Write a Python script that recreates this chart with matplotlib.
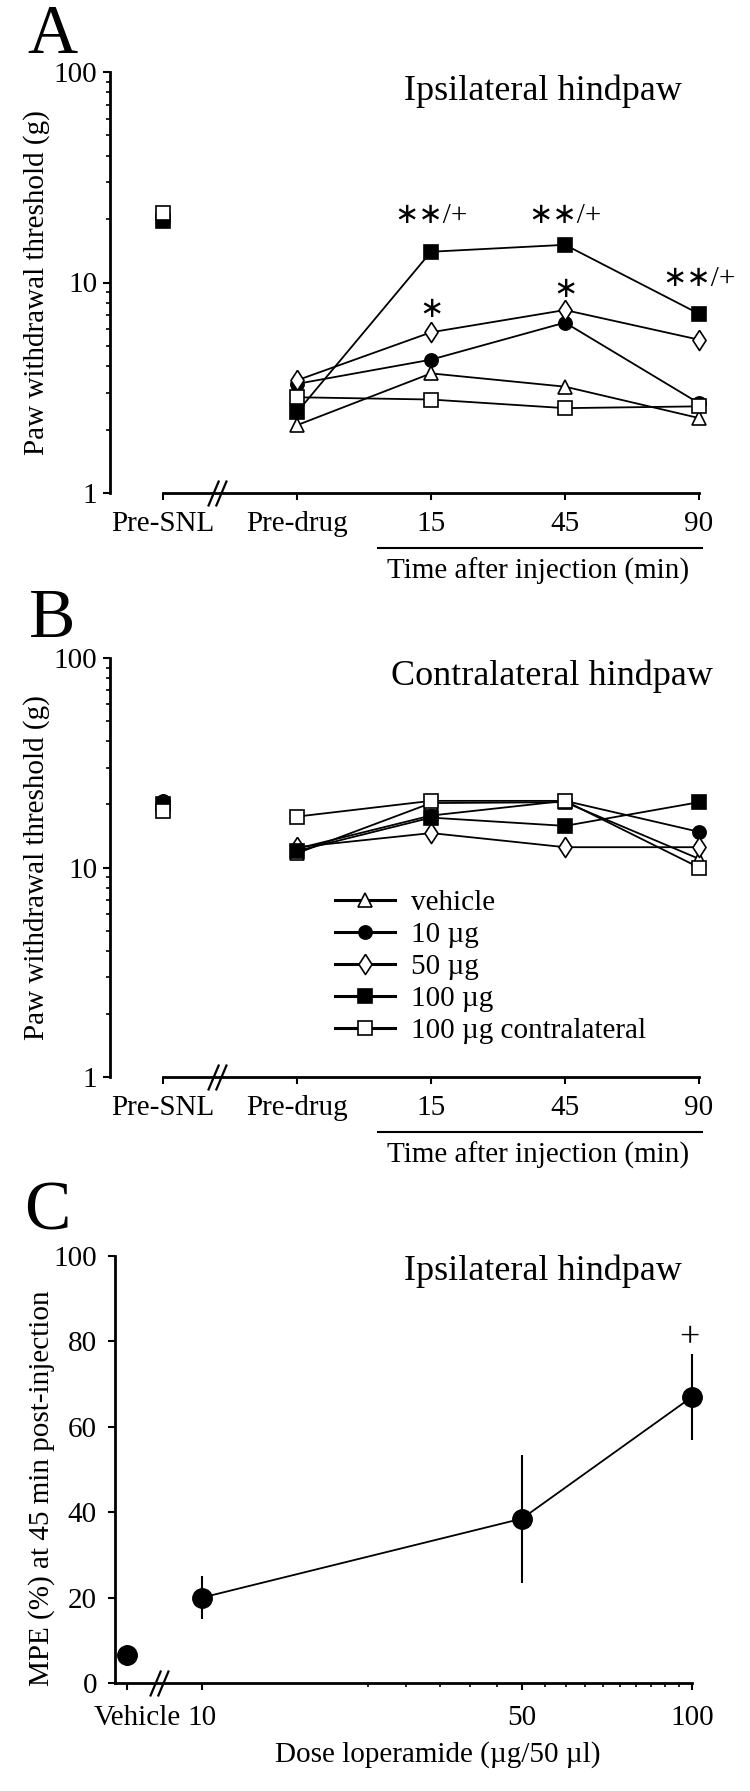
#!/usr/bin/env python3

import numpy as np
import matplotlib

matplotlib.use("Agg")

import matplotlib.pyplot as plt
from matplotlib.path import Path
from matplotlib.ticker import FixedLocator, NullFormatter
from matplotlib.transforms import ScaledTranslation


FIG_W, FIG_H = 750, 1791
DPI = 100

TIMEPOINTS = ["Pre-SNL", "Pre-drug", "15", "45", "90"]
GROUP_LABELS = ["vehicle", "10 µg", "50 µg", "100 µg", "100 µg contralateral"]

# paw withdrawal threshold (g), ipsilateral hindpaw
IPSI_VEHICLE = [20.5, 2.1, 3.7, 3.2, 2.27]
IPSI_10 = [20.0, 3.3, 4.3, 6.45, 2.67]
IPSI_50 = [20.5, 3.43, 5.8, 7.4, 5.35]
IPSI_100 = [19.5, 2.42, 14.0, 15.1, 7.1]
IPSI_100_CONTRA = [21.5, 2.85, 2.78, 2.53, 2.58]

# paw withdrawal threshold (g), contralateral hindpaw
CONTRA_VEHICLE = [19.5, 11.7, 20.3, 20.5, 11.0]
CONTRA_10 = [20.8, 12.3, 17.7, 20.8, 14.8]
CONTRA_50 = [20.0, 12.5, 14.6, 12.5, 12.5]
CONTRA_100 = [20.0, 12.0, 17.3, 15.8, 20.5]
CONTRA_100_CONTRA = [18.7, 17.5, 20.8, 20.8, 10.0]

# MPE (%) at 45 min
DOSE_LABELS = ["Vehicle", "10", "50", "100"]
DOSES = [10, 50, 100]
MPE_MEAN = [20.0, 38.5, 67.0]
MPE_SEM = [5.0, 15.0, 10.0]
MPE_VEHICLE = 6.5
MPE_VEHICLE_SEM = 2.5

# layout helpers (not data)
VEHICLE_POS = 5.68
DOSE_OFFSET = 8.0
DOSE_BREAK = 7.38
TIME_BREAK = 0.40

LABEL_SIZE = 21
TITLE_SIZE = 26
SPINE_WIDTH = 2.0
DATA_WIDTH = 1.3

DIAMOND = [(0, 1), (0.65, 0), (0, -1), (-0.65, 0), (0, 1)]
BREAK_PATH = Path(
    [(-0.36, -0.5), (0.06, 0.5), (-0.06, -0.5), (0.36, 0.5)],
    [Path.MOVETO, Path.LINETO, Path.MOVETO, Path.LINETO],
)

STYLES = [
    dict(marker="^", mfc="white", ms=10.5),
    dict(marker="o", mfc="black", ms=9.5),
    dict(marker=DIAMOND, mfc="white", ms=14.5),
    dict(marker="s", mfc="black", ms=9.5),
    dict(marker="s", mfc="white", ms=9.5),
]


def px_rect(left, top, right, bottom):
    return [left / FIG_W, 1 - bottom / FIG_H, (right - left) / FIG_W, (bottom - top) / FIG_H]


def axes_height_px(ax):
    return ax.get_position().height * FIG_H


def style_spines(ax):
    for side in ("top", "right"):
        ax.spines[side].set_visible(False)
    for side in ("left", "bottom"):
        ax.spines[side].set_linewidth(SPINE_WIDTH)


def draw_break(ax, xpos):
    ax.plot(
        [xpos], [0], transform=ax.get_xaxis_transform(), marker=BREAK_PATH,
        ms=18.7, mew=1.6, mfc="none", mec="black", ls="none", clip_on=False,
    )


def draw_time_panel(ax, series, title, title_center):
    x = np.arange(len(TIMEPOINTS))
    lines = []
    for values, label, style in zip(series, GROUP_LABELS, STYLES):
        ax.plot(x[:1], values[:1], ls="none", mec="black", mew=1.2, clip_on=False, **style)
        (line,) = ax.plot(
            x[1:], values[1:], color="black", lw=DATA_WIDTH, mec="black", mew=1.2,
            label=label, clip_on=False, **style,
        )
        lines.append(line)

    ax.set_yscale("log")
    ax.set_ylim(1, 100)
    ax.set_xlim(-0.396, 4)
    style_spines(ax)
    ax.spines["bottom"].set_bounds(0, 4)

    ax.set_xticks(x, TIMEPOINTS)
    ax.set_yticks([1, 10, 100], ["1", "10", "100"])
    ax.yaxis.set_minor_formatter(NullFormatter())
    ax.tick_params(which="major", length=5, width=1.5, labelsize=LABEL_SIZE)
    ax.tick_params(axis="x", pad=8)
    ax.tick_params(axis="y", pad=4)
    ax.tick_params(axis="y", which="minor", length=3, width=1.2)

    ax.set_ylabel("Paw withdrawal threshold (g)", fontsize=LABEL_SIZE)
    ax.yaxis.set_label_coords(-0.102, 0.5)

    h = axes_height_px(ax)
    trans = ax.get_xaxis_transform()
    ax.plot([1.604, 4.02], [-55 / h] * 2, transform=trans, color="black", lw=1.5, clip_on=False)
    ax.text(2.8, -78 / h, "Time after injection (min)", transform=trans,
            ha="center", va="center", fontsize=LABEL_SIZE)
    draw_break(ax, TIME_BREAK)

    fig = ax.figure
    fig.text(title_center[0] / FIG_W, 1 - title_center[1] / FIG_H, title,
             ha="center", va="baseline", fontsize=TITLE_SIZE)
    return lines


def mark_significance(ax, values, marks):
    for text, index, offset_px in marks:
        ax.annotate(
            text, xy=(index, values[index]), xytext=(0, offset_px * 72 / DPI),
            textcoords="offset points", ha="center", va="center",
            fontsize=LABEL_SIZE, family=["Liberation Serif", "DejaVu Sans"],
        )


def draw_dose_panel(ax):
    ax.set_xscale(
        "function",
        functions=(lambda d: np.log10(d + DOSE_OFFSET), lambda v: 10 ** v - DOSE_OFFSET),
    )
    ax.errorbar([VEHICLE_POS], [MPE_VEHICLE], yerr=[MPE_VEHICLE_SEM], fmt="o",
                color="black", ms=14, elinewidth=1.5, capsize=0, clip_on=False)
    ax.errorbar(DOSES, MPE_MEAN, yerr=MPE_SEM, fmt="-o", color="black", ms=14,
                lw=DATA_WIDTH, elinewidth=1.5, capsize=0, clip_on=False)

    ax.set_xlim(5.09, 100)
    ax.set_ylim(0, 100)
    style_spines(ax)

    ax.set_xticks([VEHICLE_POS] + DOSES, DOSE_LABELS)
    ax.xaxis.set_minor_locator(FixedLocator([d for d in range(25, 100, 5) if d != 50]))
    ax.xaxis.set_minor_formatter(NullFormatter())
    ax.set_yticks(range(0, 101, 20))
    ax.tick_params(which="major", length=5, width=1.5, labelsize=LABEL_SIZE)
    ax.tick_params(axis="x", which="minor", length=3, width=1.2)
    ax.tick_params(axis="x", pad=11)
    ax.tick_params(axis="y", pad=8)

    ax.set_ylabel("MPE (%) at 45 min post-injection", fontsize=LABEL_SIZE)
    ax.yaxis.set_label_coords(-0.104, 0.457)
    h = axes_height_px(ax)
    ax.text(0.56, -72 / h, "Dose loperamide (µg/50 µl)", transform=ax.transAxes,
            ha="center", va="center", fontsize=LABEL_SIZE)

    ax.annotate("+", xy=(DOSES[-1], MPE_MEAN[-1] + MPE_SEM[-1]), xytext=(-2, 11),
                textcoords="offset points", ha="center", va="center", fontsize=26)
    draw_break(ax, DOSE_BREAK)

    fig = ax.figure
    fig.text(543 / FIG_W, 1 - 1280 / FIG_H, "Ipsilateral hindpaw",
             ha="center", va="baseline", fontsize=TITLE_SIZE)

    vehicle_label = ax.get_xticklabels()[0]
    vehicle_label.set_transform(
        vehicle_label.get_transform() + ScaledTranslation(0.10, 0, fig.dpi_scale_trans)
    )


def main():
    plt.rcParams["font.family"] = ["Liberation Serif", "DejaVu Sans"]
    fig = plt.figure(figsize=(FIG_W / DPI, FIG_H / DPI), dpi=DPI)

    ax_a = fig.add_axes(px_rect(110, 72, 699, 493))
    draw_time_panel(
        ax_a,
        [IPSI_VEHICLE, IPSI_10, IPSI_50, IPSI_100, IPSI_100_CONTRA],
        "Ipsilateral hindpaw",
        (543, 100),
    )
    mark_significance(ax_a, IPSI_100, [("∗∗/+", 2, 36), ("∗∗/+", 3, 29), ("∗∗/+", 4, 35)])
    mark_significance(ax_a, IPSI_50, [("∗", 2, 22), ("∗", 3, 20)])

    ax_b = fig.add_axes(px_rect(110, 658, 699, 1077))
    lines = draw_time_panel(
        ax_b,
        [CONTRA_VEHICLE, CONTRA_10, CONTRA_50, CONTRA_100, CONTRA_100_CONTRA],
        "Contralateral hindpaw",
        (552, 685),
    )
    legend = ax_b.legend(
        handles=lines, loc="upper left", bbox_to_anchor=(335 / FIG_W, 1 - 890 / FIG_H),
        bbox_transform=fig.transFigure, frameon=False, fontsize=LABEL_SIZE,
        handlelength=2.05, handletextpad=0.55, labelspacing=0.19,
        borderpad=0, borderaxespad=0, numpoints=1,
    )
    for legend_line in legend.get_lines():
        legend_line.set_linewidth(2.2)

    ax_c = fig.add_axes(px_rect(115, 1256, 692, 1683))
    draw_dose_panel(ax_c)

    for letter, x_px, baseline_px in (("A", 27, 53), ("B", 29, 637), ("C", 24, 1229)):
        fig.text(x_px / FIG_W, 1 - baseline_px / FIG_H, letter,
                 ha="left", va="baseline", fontsize=50)

    fig.savefig("out.png", dpi=DPI)
    plt.close(fig)


if __name__ == "__main__":
    main()
